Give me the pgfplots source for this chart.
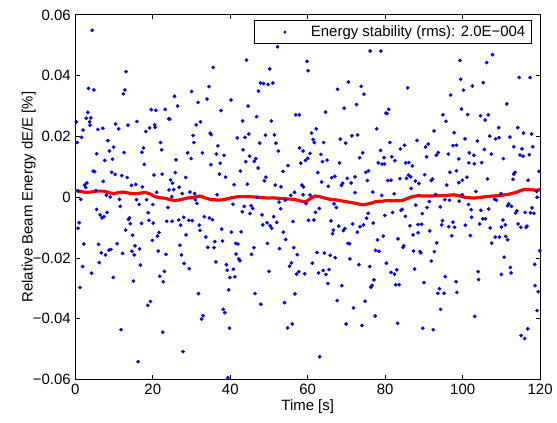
\documentclass[border=0pt]{standalone}
\usepackage{fontspec}
\setmainfont{Liberation Sans}
\usepackage{pgfplots}
\pgfplotsset{compat=1.18}
\definecolor{mblue}{RGB}{0,0,255}
\definecolor{mred}{RGB}{255,0,0}
\newcommand{\mf}{\fontsize{11.3}{13}\selectfont}

\pgfplotstableread{
t v
4.35 0.0549
13.1 0.0413
3.4 0.0358
4.8 0.0353
12.8 0.0353
12.4 0.0340
19.6 0.0288
3.2 0.0279
2.8 0.0260
4.0 0.0261
0.26 0.0248
3.7 0.0248
3.8 0.0237
15.9 0.0249
10.4 0.0241
13.6 0.0237
20.5 0.0238
19.2 0.0228
2.0 0.0221
5.8 0.0223
7.1 0.0227
11.2 0.0225
18.2 0.0216
1.6 0.0197
0.5 0.0180
8.4 0.0186
9.9 0.0165
8.8 0.0152
17.6 0.0162
5.5 0.0143
12.6 0.0147
17.2 0.0148
7.6 0.0121
9.6 0.0125
17.8 0.0108
4.6 0.0086
5.0 0.0084
9.4 0.0082
10.3 0.0075
12.0 0.0071
13.4 0.0065
20.3 0.0073
7.2 0.0052
3.0 0.0047
2.4 0.0040
2.7 0.0032
14.5 0.0039
15.6 0.0042
17.3 0.0034
5.3 0.0022
8.0 0.0007
9.0 0.0001
0.8 0.0020
1.4 -0.0007
11.4 -0.0007
15.8 -0.0008
18.4 -0.0008
16.5 -0.0024
20.0 -0.0024
11.6 -0.0030
5.5 -0.0040
8.2 -0.0050
6.4 -0.0058
7.4 -0.0064
6.9 -0.0068
18.8 -0.0051
14.0 -0.0068
13.7 -0.0073
19.0 -0.0076
1.0 -0.0084
14.2 -0.0087
17.1 -0.0086
20.1 -0.0085
0.7 -0.0102
13.0 -0.0108
14.8 -0.0125
19.9 -0.0142
2.2 -0.0154
6.0 -0.0155
10.8 -0.0153
15.4 -0.0160
16.6 -0.0170
8.7 -0.0174
9.2 -0.0172
14.6 -0.0178
6.7 -0.0183
12.2 -0.0185
7.8 -0.0190
15.2 -0.0190
6.2 -0.0215
16.8 -0.0223
1.9 -0.0228
4.2 -0.0250
9.8 -0.0264
15.0 -0.0276
1.2 -0.0297
19.4 -0.0343
18.7 -0.0356
11.8 -0.0436
16.2 -0.0541
35.6 0.0427
30.0 0.0348
34.5 0.0364
25.6 0.0332
34.0 0.0323
40.2 0.0320
31.7 0.0312
26.4 0.0300
20.8 0.0286
23.2 0.0289
37.6 0.0285
24.1 0.0258
24.4 0.0257
32.3 0.0248
31.2 0.0238
20.6 0.0230
34.8 0.0211
35.1 0.0206
30.4 0.0203
22.0 0.0180
30.6 0.0180
36.8 0.0169
22.3 0.0156
29.0 0.0146
32.8 0.0146
36.4 0.0142
38.4 0.0138
29.9 0.0127
26.0 0.0123
37.4 0.0112
35.0 0.0107
25.8 0.0081
22.4 0.0076
37.2 0.0076
38.8 0.0066
28.5 0.0065
24.6 0.0057
25.1 0.0046
26.8 0.0033
24.2 0.0024
25.4 0.0025
21.0 0.0016
27.6 0.0012
29.6 0.0017
30.8 0.0012
36.6 0.0008
24.9 0.0002
31.0 -0.0008
31.4 -0.0020
23.9 -0.0034
33.3 -0.0064
28.0 -0.0066
34.6 -0.0068
35.4 -0.0074
26.7 -0.0075
29.3 -0.0076
30.2 -0.0077
23.6 -0.0079
25.0 -0.0079
32.0 -0.0092
27.2 -0.0092
32.2 -0.0109
37.8 -0.0105
21.6 -0.0116
40.3 -0.0115
21.2 -0.0128
28.6 -0.0124
33.7 -0.0131
36.0 -0.0146
38.0 -0.0144
27.0 -0.0158
34.2 -0.0165
35.8 -0.0166
21.4 -0.0177
23.4 -0.0188
27.4 -0.0190
36.3 -0.0213
28.1 -0.0218
39.0 -0.0222
29.4 -0.0235
39.2 -0.0240
23.0 -0.0244
21.8 -0.0260
39.9 -0.0264
22.7 -0.0278
39.6 -0.0305
31.8 -0.0317
38.2 -0.0369
38.6 -0.0380
33.0 -0.0390
32.6 -0.0401
39.8 -0.0431
22.6 -0.0444
27.8 -0.0508
39.4 -0.0594
52.2 0.0495
44.2 0.0451
59.8 0.0447
60.1 0.0416
50.2 0.0422
47.8 0.0376
48.6 0.0374
49.8 0.0371
51.0 0.0376
47.3 0.0349
44.6 0.0300
56.9 0.0271
57.8 0.0271
46.8 0.0265
43.2 0.0251
50.6 0.0251
44.8 0.0208
41.8 0.0195
43.8 0.0197
49.1 0.0204
51.4 0.0205
47.6 0.0178
51.8 0.0178
57.9 0.0162
58.8 0.0152
43.3 0.0156
52.4 0.0152
45.0 0.0135
46.6 0.0127
46.2 0.0118
44.0 0.0117
60.0 0.0128
59.4 0.0121
58.2 0.0112
54.9 0.0104
47.2 0.0096
42.6 0.0086
53.6 0.0085
49.2 0.0066
48.8 0.0054
41.0 0.0041
44.4 0.0043
51.6 0.0040
53.1 0.0034
58.5 0.0040
58.9 0.0034
56.6 0.0016
55.6 0.0006
58.8 0.0008
46.9 0.0000
40.7 -0.0023
43.6 -0.0030
45.4 -0.0028
45.8 -0.0037
43.1 -0.0048
45.1 -0.0054
52.6 -0.0016
54.2 -0.0010
59.6 -0.0021
53.0 -0.0038
48.2 -0.0058
51.2 -0.0064
49.5 -0.0084
52.0 -0.0083
56.2 -0.0080
60.2 -0.0076
48.4 -0.0091
50.3 -0.0094
50.7 -0.0102
42.8 -0.0114
53.7 -0.0115
54.3 -0.0139
41.4 -0.0152
42.0 -0.0154
49.6 -0.0152
46.1 -0.0166
52.7 -0.0169
56.4 -0.0166
41.5 -0.0187
45.5 -0.0188
57.3 -0.0189
42.2 -0.0203
42.5 -0.0209
55.8 -0.0216
55.3 -0.0227
40.8 -0.0237
50.0 -0.0244
57.7 -0.0245
57.1 -0.0253
59.2 -0.0252
41.2 -0.0262
46.4 -0.0317
56.7 -0.0318
47.9 -0.0352
54.0 -0.0347
56.0 -0.0417
54.8 -0.0430
76.1 0.0481
78.9 0.0481
70.5 0.0379
67.7 0.0355
73.8 0.0365
74.5 0.0339
72.6 0.0305
69.4 0.0293
64.6 0.0280
80.2 0.0277
77.8 0.0225
62.2 0.0225
61.0 0.0211
72.9 0.0205
71.4 0.0202
61.4 0.0190
61.7 0.0180
64.1 0.0180
68.4 0.0191
69.8 0.0178
60.6 0.0144
63.4 0.0141
74.2 0.0146
73.4 0.0130
78.8 0.0154
79.7 0.0130
63.8 0.0117
65.0 0.0122
68.2 0.0113
78.2 0.0113
79.2 0.0109
79.8 0.0109
62.6 0.0081
75.0 0.0082
75.7 0.0087
66.2 0.0064
67.0 0.0069
72.2 0.0067
70.2 0.0062
63.6 0.0050
69.0 0.0046
68.7 0.0039
71.2 0.0047
75.4 0.0055
65.3 0.0036
76.8 0.0017
72.2 0.0015
79.1 0.0006
60.6 0.0007
63.0 -0.0037
62.0 -0.0050
66.8 -0.0022
67.4 -0.0034
61.6 -0.0075
66.0 -0.0078
68.0 -0.0095
66.6 -0.0108
66.4 -0.0120
69.2 -0.0110
69.6 -0.0103
71.6 -0.0088
73.5 -0.0097
74.4 -0.0091
75.2 -0.0069
75.6 -0.0053
76.9 -0.0085
79.9 -0.0060
72.8 -0.0115
79.5 -0.0128
78.0 -0.0140
70.4 -0.0152
70.8 -0.0153
77.5 -0.0175
78.4 -0.0178
62.4 -0.0182
64.3 -0.0184
65.8 -0.0191
67.1 -0.0199
70.9 -0.0203
61.2 -0.0217
73.2 -0.0222
76.0 -0.0228
80.3 -0.0217
64.0 -0.0241
65.5 -0.0238
62.8 -0.0249
64.7 -0.0254
77.1 -0.0272
65.2 -0.0284
68.8 -0.0291
76.6 -0.0290
76.3 -0.0296
67.6 -0.0340
74.8 -0.0342
71.8 -0.0364
77.4 -0.0391
69.9 -0.0417
74.0 -0.0422
63.1 -0.0525
99.3 0.0450
99.5 0.0388
85.8 0.0360
100.2 0.0352
96.9 0.0336
99.7 0.0290
80.9 0.0289
80.5 0.0275
94.9 0.0271
95.7 0.0250
92.6 0.0218
97.8 0.0212
88.2 0.0187
81.2 0.0180
91.1 0.0175
85.0 0.0171
83.9 0.0159
97.5 0.0170
98.4 0.0171
90.4 0.0165
93.2 0.0138
93.7 0.0147
96.3 0.0142
81.7 0.0133
82.5 0.0120
85.3 0.0113
86.1 0.0114
87.0 0.0103
90.7 0.0133
99.0 0.0126
96.7 0.0082
86.0 0.0073
86.6 0.0067
90.2 0.0074
98.4 0.0087
80.7 0.0055
81.5 0.0056
83.8 0.0061
85.5 0.0062
87.8 0.0053
88.7 0.0045
91.9 0.0055
92.2 0.0060
95.9 0.0040
99.0 0.0048
99.9 0.0056
82.3 0.0011
86.7 0.0029
93.0 0.0009
91.4 -0.0014
95.4 -0.0008
96.6 -0.0010
99.1 -0.0013
87.9 -0.0026
90.8 -0.0034
94.2 -0.0032
84.1 -0.0043
84.4 -0.0040
81.9 -0.0050
89.6 -0.0054
85.2 -0.0063
94.8 -0.0077
97.5 -0.0082
86.4 -0.0094
88.5 -0.0090
89.4 -0.0089
94.6 -0.0091
96.4 -0.0097
97.9 -0.0099
91.5 -0.0111
88.5 -0.0117
87.2 -0.0124
97.2 -0.0127
83.3 -0.0137
93.3 -0.0150
84.8 -0.0160
84.6 -0.0165
87.3 -0.0177
89.0 -0.0179
89.2 -0.0183
92.7 -0.0179
91.9 -0.0210
87.6 -0.0236
81.5 -0.0247
82.4 -0.0253
83.0 -0.0239
95.5 -0.0261
90.0 -0.0281
98.3 -0.0278
82.7 -0.0288
83.6 -0.0288
94.0 -0.0301
93.6 -0.0316
95.2 -0.0316
98.5 -0.0313
94.3 -0.0369
83.2 -0.0415
89.7 -0.0431
92.4 -0.0436
107.7 0.0469
106.2 0.0443
114.6 0.0394
117.4 0.0394
105.3 0.0377
102.5 0.0366
111.4 0.0307
101.3 0.0272
104.6 0.0268
106.6 0.0271
105.8 0.0254
109.3 0.0229
114.2 0.0229
115.7 0.0211
117.8 0.0208
107.0 0.0201
108.5 0.0192
109.4 0.0196
112.2 0.0198
100.6 0.0192
103.8 0.0185
113.2 0.0166
115.3 0.0159
118.1 0.0166
105.6 0.0157
101.7 0.0146
102.9 0.0138
107.4 0.0142
114.8 0.0139
115.6 0.0135
117.2 0.0140
110.5 0.0127
101.6 0.0113
103.0 0.0110
104.9 0.0114
119.7 0.0085
113.5 0.0082
113.2 0.0076
101.1 0.0066
106.4 0.0060
113.0 0.0059
116.9 0.0056
103.4 0.0019
99.9 0.0008
109.9 0.0012
119.1 0.0019
108.2 -0.0006
108.7 -0.0010
119.2 0.0000
101.5 -0.0024
111.9 -0.0022
111.6 -0.0028
112.6 -0.0030
117.9 -0.0035
102.2 -0.0041
104.7 -0.0043
106.7 -0.0039
114.0 -0.0045
113.7 -0.0052
116.1 -0.0050
117.5 -0.0051
118.4 -0.0053
102.3 -0.0066
105.2 -0.0071
105.9 -0.0071
110.4 -0.0075
100.7 -0.0092
104.4 -0.0088
111.0 -0.0091
110.0 -0.0098
114.3 -0.0088
115.0 -0.0099
116.4 -0.0099
116.6 -0.0095
107.1 -0.0101
102.0 -0.0126
108.4 -0.0131
109.5 -0.0131
111.1 -0.0129
111.6 -0.0140
107.5 -0.0151
119.9 -0.0176
110.7 -0.0197
118.6 -0.0221
112.3 -0.0231
104.0 -0.0245
112.5 -0.0249
110.0 -0.0254
104.1 -0.0271
118.7 -0.0291
119.5 -0.0311
119.2 -0.0373
103.1 -0.0392
116.8 -0.0433
115.1 -0.0455
116.0 -0.0465
}\energydata

\pgfplotstableread{
t v
0 0.0022
1.5 0.0019
2.5 0.0016
4 0.0017
5.5 0.0020
7.4 0.0020
9 0.0014
10 0.0012
11.5 0.0016
12.5 0.0017
14 0.0013
15.6 0.0011
17 0.0014
18 0.0016
19.5 0.0010
20.5 0.0002
22 -0.0002
23 -0.0003
24.5 -0.0008
25.8 -0.0011
27.5 -0.0007
28.8 -0.0003
30.5 0.0000
32.2 0.0004
33.5 -0.0002
34.8 -0.0007
36.5 -0.0009
37.8 -0.0009
39 -0.0006
40.3 -0.0002
42 0.0002
44 0.0002
46 0.0001
48 -0.0001
49.6 -0.0003
51 -0.0002
53 -0.0004
55 -0.0006
56.5 -0.0007
58 -0.0012
59.5 -0.0015
60.5 -0.0006
61.9 0.0004
63 0.0002
64.5 -0.0003
65.8 -0.0007
67.5 -0.0009
69.6 -0.0014
71.5 -0.0018
73 -0.0022
74.3 -0.0025
76 -0.0021
77.7 -0.0014
79.3 -0.0013
80.5 -0.0011
82 -0.0012
84.4 -0.0011
85.5 -0.0005
87 0.0002
88.5 0.0005
90 0.0004
92 0.0004
94 0.0005
96 0.0006
97.7 0.0008
99.3 0.0004
100.5 0.0000
102.7 -0.0003
104.5 -0.0001
106 0.0002
107.8 0.0004
110 0.0006
112 0.0010
113.8 0.0016
115 0.0022
116 0.0026
117.5 0.0025
119 0.0023
120 0.0025
}\meandata

\begin{document}
\begin{tikzpicture}
\begin{axis}[
 scale only axis,
 width=351.75pt, height=276pt,
 xmin=0, xmax=120, ymin=-0.06, ymax=0.06,
 scaled y ticks=false,
 xtick={0,20,...,120},
 ytick={-0.06,-0.04,-0.02,0,0.02,0.04,0.06},
 yticklabels={−0.06,−0.04,−0.02,0,0.02,0.04,0.06},
 /pgf/number format/assume math mode=true,
 tick label style={font=\mf},
 label style={font=\mf},
 tick align=inside,
 major tick length=3.5pt,
 axis line style={line width=0.7pt},
 every tick/.style={black,line width=0.6pt},
 xlabel={Time [s]},
 ylabel={Relative Beam Energy dE/E [\%]},
 xlabel style={at={(axis description cs:0.5,-0.073)},anchor=center},
 ylabel style={at={(axis description cs:-0.100,0.5)},anchor=center},
 legend style={at={(axis description cs:0.983,0.986)},anchor=north east,
   draw=black,line width=0.6pt,fill=white,font=\mf,inner ysep=2pt},
 legend image code/.code={
   \path[draw=none,fill=none] (0pt,0pt) (37.5pt,0pt);
   \fill[mblue,draw=none] (19.75pt,0pt) circle (1.2pt);},
]
\addplot[only marks,mark=*,mark size=1.2pt,mark options={draw=mblue,fill=mblue},color=mblue]
  table[x=t,y=v] {\energydata};
\addlegendentry{Energy stability (rms): 2.0E−004}
\addplot[mred,line width=2.4pt,forget plot] table[x=t,y=v] {\meandata};
\end{axis}
\path (current axis.south west) ++(-57pt,-32.25pt) coordinate (bbl);
\path (current axis.north east) ++(9pt,11.25pt) coordinate (bbr);
\path (bbl) rectangle (bbr);
\end{tikzpicture}
\end{document}
